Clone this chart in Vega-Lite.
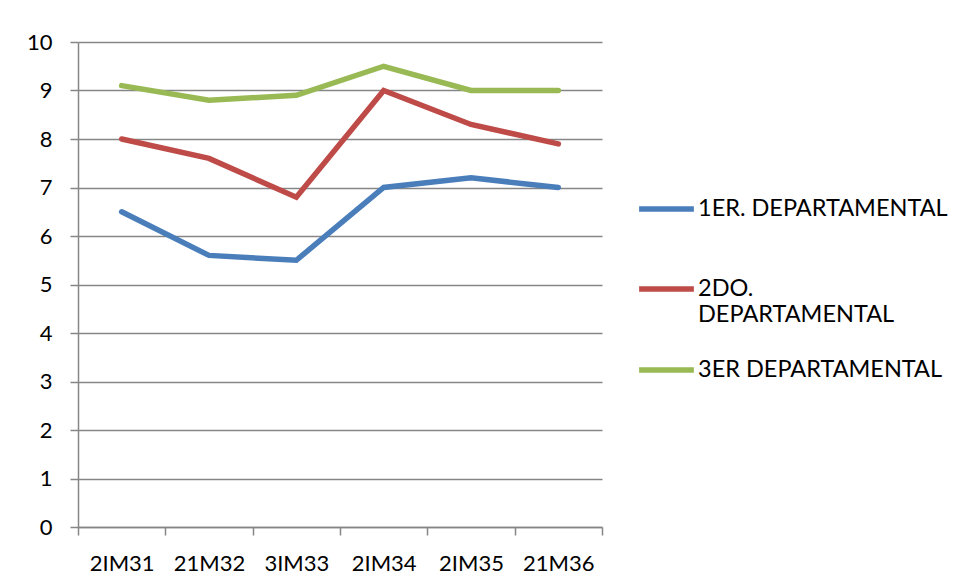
{
  "$schema": "https://vega.github.io/schema/vega-lite/v6.json",
  "width": 524,
  "height": 485,
  "autosize": {"type": "none"},
  "padding": {"left": 78, "top": 42, "right": 358, "bottom": 61},
  "background": "white",
  "config": {
    "font": "Lato",
    "view": {"stroke": null},
    "axis": {"labelFont": "Lato", "labelFontSize": 22, "labelColor": "#000000", "domainColor": "#868686", "domainWidth": 1.5, "tickColor": "#868686", "tickWidth": 1.5, "gridColor": "#868686", "gridWidth": 1.5}
  },
  "data": {
    "values": [
      {"grupo": "2IM31", "serie": "1ER. DEPARTAMENTAL", "valor": 6.5},
      {"grupo": "21M32", "serie": "1ER. DEPARTAMENTAL", "valor": 5.6},
      {"grupo": "3IM33", "serie": "1ER. DEPARTAMENTAL", "valor": 5.5},
      {"grupo": "2IM34", "serie": "1ER. DEPARTAMENTAL", "valor": 7.0},
      {"grupo": "2IM35", "serie": "1ER. DEPARTAMENTAL", "valor": 7.2},
      {"grupo": "21M36", "serie": "1ER. DEPARTAMENTAL", "valor": 7.0},
      {"grupo": "2IM31", "serie": "2DO. DEPARTAMENTAL", "valor": 8.0},
      {"grupo": "21M32", "serie": "2DO. DEPARTAMENTAL", "valor": 7.6},
      {"grupo": "3IM33", "serie": "2DO. DEPARTAMENTAL", "valor": 6.8},
      {"grupo": "2IM34", "serie": "2DO. DEPARTAMENTAL", "valor": 9.0},
      {"grupo": "2IM35", "serie": "2DO. DEPARTAMENTAL", "valor": 8.3},
      {"grupo": "21M36", "serie": "2DO. DEPARTAMENTAL", "valor": 7.9},
      {"grupo": "2IM31", "serie": "3ER DEPARTAMENTAL", "valor": 9.1},
      {"grupo": "21M32", "serie": "3ER DEPARTAMENTAL", "valor": 8.8},
      {"grupo": "3IM33", "serie": "3ER DEPARTAMENTAL", "valor": 8.9},
      {"grupo": "2IM34", "serie": "3ER DEPARTAMENTAL", "valor": 9.5},
      {"grupo": "2IM35", "serie": "3ER DEPARTAMENTAL", "valor": 9.0},
      {"grupo": "21M36", "serie": "3ER DEPARTAMENTAL", "valor": 9.0}
    ]
  },
  "mark": {"type": "line", "strokeWidth": 5.5, "strokeCap": "round", "strokeJoin": "miter"},
  "encoding": {
    "x": {
      "field": "grupo", "type": "nominal", "sort": null,
      "scale": {"type": "band", "paddingInner": 0, "paddingOuter": 0},
      "axis": {"title": null, "labelAngle": 0, "tickBand": "extent", "grid": false, "tickSize": 8, "labelPadding": 18, "domain": true}
    },
    "y": {
      "field": "valor", "type": "quantitative",
      "scale": {"domain": [0, 10], "nice": false},
      "axis": {"title": null, "values": [0,1,2,3,4,5,6,7,8,9,10], "tickSize": 8, "labelPadding": 18, "grid": true}
    },
    "color": {
      "field": "serie", "type": "nominal",
      "scale": {"domain": ["1ER. DEPARTAMENTAL", "2DO. DEPARTAMENTAL", "3ER DEPARTAMENTAL"], "range": ["#4A7EBB", "#BE4B48", "#98B954"]},
      "legend": {
        "title": null, "orient": "none", "legendX": 558, "legendY": 131,
        "symbolType": "stroke", "symbolSize": 3000, "symbolStrokeWidth": 5.5,
        "labelFont": "Lato", "labelFontSize": 23.5, "labelColor": "#000000", "labelLimit": 400,
        "labelExpr": "datum.label == '2DO. DEPARTAMENTAL' ? ['2DO.', 'DEPARTAMENTAL'] : datum.label",
        "clipHeight": 72, "rowPadding": 8, "labelOffset": 1
      }
    }
  }
}
